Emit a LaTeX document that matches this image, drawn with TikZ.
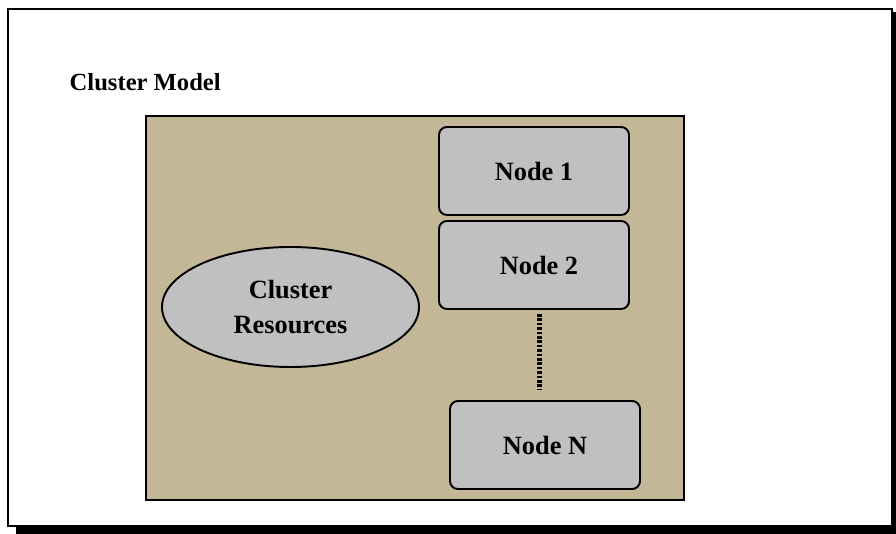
\documentclass[tikz,border=0pt]{standalone}
\usepackage{fontspec}
\setmainfont{Liberation Serif}
\usepackage{xcolor}
\usetikzlibrary{positioning,calc,shapes.geometric}
\definecolor{clustertan}{RGB}{196,183,151}
\definecolor{nodegrey}{RGB}{192,192,192}

\begin{document}
\begin{tikzpicture}[
    frame/.style={draw=black, line width=1.2pt, fill=white},
    clusterbox/.style={draw=black, line width=1.3pt, fill=clustertan},
    machine/.style={draw=black, line width=1.1pt, fill=nodegrey, rounded corners=4.5pt, minimum width=3.8cm, minimum height=1.76cm, inner sep=0pt, align=center, font=\fontsize{15}{17}\selectfont\bfseries},
    resources/.style={ellipse, draw=black, line width=1.1pt, fill=nodegrey, minimum width=5.14cm, minimum height=2.40cm, inner sep=0pt, align=center, font=\fontsize{15}{19.5}\selectfont\bfseries},
    dotline/.style={line width=2.6pt, dash pattern=on 1.5pt off 1.0pt}
]
\useasboundingbox (0,0) rectangle (17.92,10.68);
% frame with shadow
\fill[black] (0.32,0) rectangle (17.92,10.44);
\draw[frame] (0.16,0.16) rectangle (17.84,10.5);
\node[anchor=base west, font=\fontsize{14}{16}\selectfont\bfseries] (title) at (1.27,8.87) {Cluster Model};

% cluster area
\draw[clusterbox] (2.92,0.68) rectangle (13.68,8.36);
\node[resources] (res) at (5.81,4.54) {Cluster\\Resources};

\node[machine] (n1) at (10.68,7.26) {Node 1};
\node[machine] (n2) at (10.68,5.38) {\hspace{0.2cm}Node 2};
\node[machine] (nN) at (10.90,1.78) {Node N};

\coordinate (dtop) at (10.79,4.40);
\coordinate (dbot) at (10.79,2.90);
\draw[dotline] (dtop) -- (dbot);
\end{tikzpicture}
\end{document}
